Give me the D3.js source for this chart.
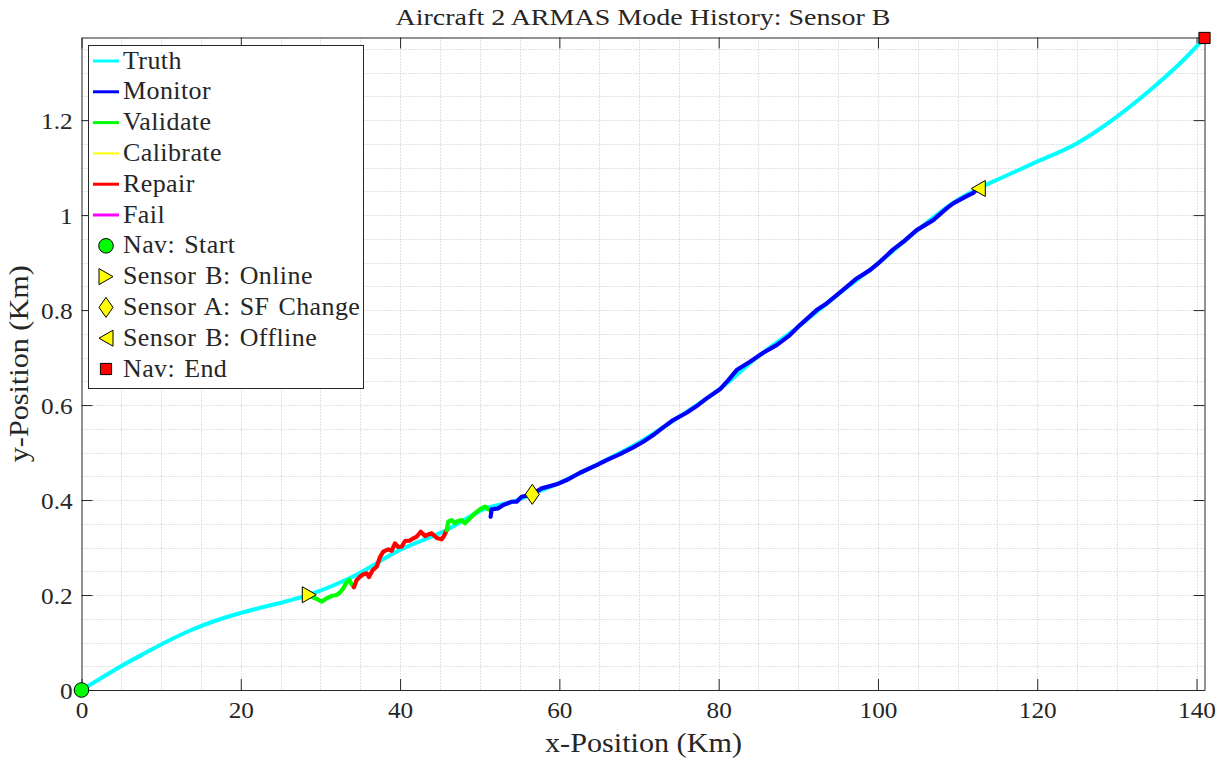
<!DOCTYPE html>
<html>
<head>
<meta charset="utf-8">
<script src="https://cdn.jsdelivr.net/npm/d3@7"></script>
<style>
  body { margin: 0; background: #fff; }
  text { font-family: "Liberation Serif", "Times New Roman", serif; fill: #262626; }
</style>
</head>
<body>
<svg id="chart" width="1225" height="761"></svg>
<script>
// ---- data (km) ----
var xTickValues = [0, 20, 40, 60, 80, 100, 120, 140];
var yTickValues = [0, 0.2, 0.4, 0.6, 0.8, 1.0, 1.2];

var truthXY = [
    [0, 0], [2.07, 0.021], [5.00, 0.0505], [7.93, 0.0773], [10.86, 0.1032],
    [13.79, 0.1263], [16.72, 0.1453], [19.65, 0.1605], [22.57, 0.1736], [25.51, 0.1859],
    [28.6, 0.2010], [34.09, 0.239], [39.99, 0.295], [45.85, 0.337],
    [50.87, 0.383], [54.21, 0.397], [56.52, 0.412], [60.0, 0.436], [65.0, 0.477],
    [70.0, 0.521], [75.0, 0.575], [80.0, 0.632], [85.0, 0.703], [90.0, 0.765],
    [95.0, 0.833], [100.0, 0.898], [105.0, 0.969], [110.0, 1.032], [112.6, 1.056],
    [115.32, 1.077], [119.5, 1.109], [124.95, 1.151], [129.97, 1.207],
    [134.15, 1.263], [138.33, 1.326], [141.0, 1.373]
];

var validate1XY = [
    [28.90, 0.1964], [29.57, 0.1916], [30.16, 0.1859], [30.78, 0.1931], [31.41, 0.1979],
    [32.04, 0.2000], [32.45, 0.2053], [32.87, 0.2141], [33.21, 0.2246], [33.62, 0.2316],
    [33.92, 0.2225], [34.12, 0.2175]
];

var repairXY = [
    [34.21, 0.2162], [34.55, 0.2316], [34.97, 0.2385], [35.34, 0.2432], [35.81, 0.2457],
    [36.10, 0.2379], [36.56, 0.2526], [37.06, 0.2596], [37.48, 0.2800], [37.89, 0.2912],
    [38.52, 0.2962], [38.95, 0.2933], [39.36, 0.3088], [39.77, 0.3011], [40.20, 0.3017],
    [40.62, 0.3137], [41.24, 0.3147], [41.66, 0.3194], [42.08, 0.3227], [42.59, 0.3333],
    [43.13, 0.3242], [43.50, 0.3274], [43.97, 0.3299], [44.60, 0.3200], [45.22, 0.3173],
    [45.51, 0.3242], [45.85, 0.3368]
];

var validate2XY = [
    [45.85, 0.3368], [46.05, 0.3543], [46.48, 0.3579], [46.89, 0.3509], [47.27, 0.3558],
    [47.73, 0.3579], [48.15, 0.3509], [48.78, 0.3615], [49.40, 0.3720], [50.03, 0.3804],
    [50.66, 0.3863], [51.07, 0.3804], [51.35, 0.3789]
];

var monitorXY = [
    [51.37, 0.3648], [51.50, 0.3804], [52.33, 0.3825], [52.96, 0.3895], [54.01, 0.3964],
    [54.64, 0.3964], [55.27, 0.4069], [56.52, 0.4120], [57.78, 0.4246], [59.66, 0.4331],
    [60.92, 0.4421], [62.59, 0.4575], [64.68, 0.4737], [65.94, 0.4842], [67.61, 0.4968],
    [69.28, 0.5109], [70.53, 0.5227], [71.79, 0.5368], [73.04, 0.5531], [74.30, 0.5684],
    [75.98, 0.5838], [77.24, 0.5979], [78.49, 0.6141], [80.16, 0.6331], [81.21, 0.6526],
    [82.26, 0.6737], [83.93, 0.6912], [85.60, 0.7101], [87.28, 0.7263], [88.95, 0.7474],
    [90.21, 0.7684], [92.30, 0.8000], [93.56, 0.8141], [94.82, 0.8316], [96.07, 0.8491],
    [97.33, 0.8667], [99.00, 0.8842], [100.25, 0.9017], [101.92, 0.9278], [103.18, 0.9438],
    [104.86, 0.9684], [106.94, 0.9895], [108.62, 1.0141], [109.45, 1.0246], [111.14, 1.0400],
    [111.96, 1.0469], [112.5, 1.0550]
];

var modeNames = ["Monitor", "Validate", "Calibrate", "Repair", "Fail"];
var modeSegments = [
    ["Validate", validate1XY],
    ["Repair", repairXY],
    ["Validate", validate2XY],
    ["Monitor", monitorXY]
];

var eventNames = ["Nav: Start", "Sensor B: Online", "Sensor A: SF Change", "Sensor B: Offline", "Nav: End"];
var eventX = [0, 28.6, 56.6, 112.6, 141.0];
var eventY = [0, 0.2006, 0.412, 1.056, 1.373];

// ---- styles ----
var modeColor = {
    Truth: "#00ffff", Monitor: "#0000ff", Validate: "#00ff00",
    Calibrate: "#ffff00", Repair: "#ff0000", Fail: "#ff00ff"
};
var eventShape = ["circle", "triRight", "diamond", "triLeft", "square"];
var eventFill = ["#00ff00", "#ffff00", "#ffff00", "#ffff00", "#ff0000"];

function shapePath(kind) {
    switch (kind) {
        case "circle":   return d3.symbol(d3.symbolCircle, Math.PI * 7.3 * 7.3)();
        case "triRight": return "M-7,-8L7,0L-7,8Z";
        case "triLeft":  return "M7,-8L-7,0L7,8Z";
        case "diamond":  return "M0,-10L7,0L0,10L-7,0Z";
        case "square":   return "M-5.6,-5.6H5.6V5.6H-5.6Z";
    }
}

var svg = d3.select("#chart");
var plotLeft = 81.5, plotRight = 1204.5, plotTop = 37.5, plotBottom = 690;

var x = d3.scaleLinear().domain([0, 141]).range([plotLeft, plotRight]);
var y = d3.scaleLinear().domain([0, 1.374]).range([plotBottom, plotTop]);

// grid (dotted, major + minor)
var grid = svg.append("g").attr("class", "grid")
    .attr("stroke", "#c4c4c4").attr("stroke-width", 1).attr("stroke-dasharray", "1,2");
grid.selectAll("line.gx").data(d3.range(5, 141, 5)).enter().append("line")
    .attr("x1", function(d) { return Math.round(x(d)) + 0.5; })
    .attr("x2", function(d) { return Math.round(x(d)) + 0.5; })
    .attr("y1", plotTop).attr("y2", plotBottom);
grid.selectAll("line.gy").data(d3.range(0.05, 1.374, 0.05)).enter().append("line")
    .attr("y1", function(d) { return Math.round(y(d)) + 0.5; })
    .attr("y2", function(d) { return Math.round(y(d)) + 0.5; })
    .attr("x1", plotLeft).attr("x2", plotRight);

// axes
var fmt = function(d) { return String(+d.toFixed(1)); };
var axB = svg.append("g").attr("transform", "translate(0," + plotBottom + ")")
    .call(d3.axisBottom(x).tickValues(xTickValues).tickFormat(fmt).tickSizeInner(-11).tickSizeOuter(0).tickPadding(12));
var axL = svg.append("g").attr("transform", "translate(" + plotLeft + ",0)")
    .call(d3.axisLeft(y).tickValues(yTickValues).tickFormat(fmt).tickSizeInner(-11).tickSizeOuter(0).tickPadding(8));
svg.append("g").attr("transform", "translate(0," + plotTop + ")")
    .call(d3.axisTop(x).tickValues(xTickValues).tickFormat("").tickSizeInner(-11).tickSizeOuter(0));
svg.append("g").attr("transform", "translate(" + plotRight + ",0)")
    .call(d3.axisRight(y).tickValues(yTickValues).tickFormat("").tickSizeInner(-11).tickSizeOuter(0));

svg.selectAll(".domain, .tick line").attr("stroke", "#262626");
[axB, axL].forEach(function(a) {
    a.attr("font-size", null).attr("font-family", null);
    a.selectAll("text")
        .style("font-size", "23px").attr("fill", "#262626")
        .attr("transform", "scale(1.1,1)");
});
axL.selectAll("text").attr("dy", "0.36em");

// truth line then mode segments
var line = d3.line()
    .x(function(d) { return x(d[0]); })
    .y(function(d) { return y(d[1]); });

svg.append("path").datum(truthXY)
    .attr("d", line.curve(d3.curveMonotoneX))
    .attr("fill", "none").attr("stroke", modeColor.Truth)
    .attr("stroke-width", 4).attr("stroke-linejoin", "round");

line.curve(d3.curveLinear);
svg.selectAll("path.mode").data(modeSegments).enter().append("path")
    .attr("class", "mode")
    .attr("d", function(d) { return line(d[1]); })
    .attr("fill", "none")
    .attr("stroke", function(d) { return modeColor[d[0]]; })
    .attr("stroke-width", 4.2)
    .attr("stroke-linejoin", "round").attr("stroke-linecap", "round");

// event markers
svg.selectAll("path.event").data(eventNames).enter().append("path")
    .attr("class", "event")
    .attr("transform", function(d, i) { return "translate(" + x(eventX[i]) + "," + y(eventY[i]) + ")"; })
    .attr("d", function(d, i) { return shapePath(eventShape[i]); })
    .attr("fill", function(d, i) { return eventFill[i]; })
    .attr("stroke", "#000").attr("stroke-width", 1);

// legend
var legendItems = [{name: "Truth", kind: "line"}]
    .concat(modeNames.map(function(m) { return {name: m, kind: "line"}; }))
    .concat(eventNames.map(function(e, i) { return {name: e, kind: "marker", i: i}; }));

var lg = svg.append("g").attr("class", "legend");
lg.append("rect").attr("x", 88.5).attr("y", 45.5).attr("width", 275).attr("height", 343)
    .attr("fill", "#fff").attr("stroke", "#262626").attr("stroke-width", 1);

var rowH = 30.8;
var rows = lg.selectAll("g.row").data(legendItems).enter().append("g")
    .attr("class", "row")
    .attr("transform", function(d, i) { return "translate(0," + (61 + i * rowH) + ")"; });

rows.filter(function(d) { return d.kind === "line"; }).append("line")
    .attr("x1", 93).attr("x2", 119).attr("y1", 0).attr("y2", 0)
    .attr("stroke", function(d) { return modeColor[d.name]; })
    .attr("stroke-width", function(d) { return d.name === "Calibrate" ? 2 : 3; });

rows.filter(function(d) { return d.kind === "marker"; }).append("path")
    .attr("transform", "translate(106,0)")
    .attr("d", function(d) { return shapePath(eventShape[d.i]); })
    .attr("fill", function(d) { return eventFill[d.i]; })
    .attr("stroke", "#000").attr("stroke-width", 1);

rows.append("text")
    .attr("transform", "translate(123,7.5) scale(1.06,1)")
    .style("font-size", "24.5px")
    .style("letter-spacing", "0.4px")
    .style("word-spacing", "2px")
    .attr("fill", "#000")
    .text(function(d) { return d.name; });

// title and axis labels
svg.append("text")
    .attr("x", 643).attr("y", 25)
    .attr("text-anchor", "middle")
    .attr("textLength", 495).attr("lengthAdjust", "spacingAndGlyphs")
    .style("font-size", "22.5px").attr("fill", "#000")
    .text("Aircraft 2 ARMAS Mode History: Sensor B");

svg.append("text")
    .attr("x", 643.5).attr("y", 752)
    .attr("text-anchor", "middle")
    .attr("textLength", 197).attr("lengthAdjust", "spacingAndGlyphs")
    .style("font-size", "26.5px").attr("fill", "#262626")
    .text("x-Position (Km)");

svg.append("text")
    .attr("transform", "translate(28," + ((plotTop + plotBottom) / 2) + ") rotate(-90)")
    .attr("text-anchor", "middle")
    .attr("textLength", 197).attr("lengthAdjust", "spacingAndGlyphs")
    .style("font-size", "26.5px").attr("fill", "#262626")
    .text("y-Position (Km)");
</script>
</body>
</html>
